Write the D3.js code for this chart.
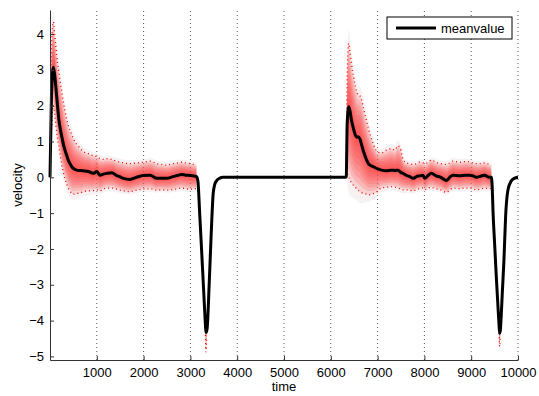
<!DOCTYPE html>
<html>
<head>
<meta charset="utf-8">
<script src="https://cdn.jsdelivr.net/npm/d3@7"></script>
<style>
  body { margin: 0; background: #fff; }
  svg text { font-family: "Liberation Sans", Arial, sans-serif; font-size: 13px; fill: #000; }
</style>
</head>
<body>
<svg id="chart" width="539" height="396"></svg>
<script>

// time samples of the averaged run
const time = [0, 30, 71, 100, 130, 160, 190, 220, 250, 290, 320, 360, 390, 430, 463, 510, 570, 640, 710, 820,
  925, 1000, 1070, 1140, 1210, 1320, 1420, 1500, 1570, 1710, 1850, 1990, 2140, 2280, 2380, 2490, 2630, 2720, 2810, 2900,
  2990, 3060, 3130, 3160, 3200, 3240, 3275, 3310, 3322, 3333, 3345, 3359, 3402, 3445, 3487, 3520, 3558, 3620, 3700, 6320,
  6330, 6350, 6383, 6410, 6441, 6480, 6512, 6550, 6583, 6620, 6660, 6700, 6760, 6800, 6850, 6903, 6990, 7082, 7180, 7295,
  7370, 7437, 7500, 7544, 7620, 7686, 7757, 7830, 7900, 7971, 8006, 8080, 8149, 8250, 8350, 8469, 8540, 8611, 8750, 8870,
  8967, 9040, 9109, 9200, 9287, 9380, 9430, 9450, 9465, 9500, 9536, 9572, 9596, 9607, 9620, 9640, 9664, 9700, 9735, 9786,
  9857, 9920, 10000]

const meanvalue = [0, 2.2, 3.07, 2.85, 2.45, 2.0, 1.6, 1.35, 1.15, 0.9, 0.76, 0.6, 0.48, 0.38, 0.30, 0.24, 0.20, 0.19, 0.18, 0.16,
  0.11, 0.16, 0.06, 0.09, 0.11, 0.13, 0.05, 0.01, -0.03, -0.06, 0.0, 0.05, 0.06, -0.03, -0.03, -0.03, 0.02, 0.05, 0.08, 0.06,
  0.05, 0.04, 0.02, -0.1, -1.05, -2.05, -2.95, -3.85, -4.15, -4.33, -4.3, -4.2, -2.96, -1.56, -0.45, -0.2, -0.1, -0.03, 0, 0,
  0.02, 1.5, 1.97, 1.85, 1.6, 1.38, 1.23, 1.12, 1.13, 1.08, 0.9, 0.72, 0.5, 0.39, 0.33, 0.30, 0.24, 0.2, 0.18, 0.2,
  0.19, 0.2, 0.13, 0.11, 0.05, 0.02, -0.03, 0.02, 0.04, 0.06, -0.03, 0.05, 0.11, 0.04, 0.0, -0.09, 0.0, 0.06, 0.04, 0.06,
  0.06, 0.04, 0.0, 0.03, 0.06, 0.0, 0.0, -0.3, -0.91, -1.84, -2.77, -3.61, -4.15, -4.35, -4.3, -3.9, -3.24, -2.3, -1.1, -0.35,
  -0.1, -0.03, 0]

// spread of the individual runs (null = no spread drawn)
const upper = [0, 3.6, 4.34, 4.0, 3.6, 3.2, 2.95, 2.65, 2.4, 2.05, 1.85, 1.6, 1.45, 1.3, 1.2, 1.05, 0.92, 0.82, 0.72, 0.66,
  0.6, 0.58, 0.52, 0.5, 0.52, 0.5, 0.45, 0.42, 0.4, 0.38, 0.4, 0.42, 0.45, 0.38, 0.36, 0.34, 0.38, 0.4, 0.42, 0.4,
  0.38, 0.36, 0.34, null, null, null, null, null, -4.15, -4.3, -4.25, null, null, null, null, null, null, null, null, null,
  0.02, 2.8, 3.74, 3.5, 3.18, 2.85, 2.62, 2.4, 2.3, 2.28, 2.15, 1.92, 1.6, 1.38, 1.15, 0.95, 0.72, 0.68, 0.75, 0.8,
  0.76, 0.88, 0.75, 0.5, 0.4, 0.38, 0.36, 0.38, 0.42, 0.4, 0.38, 0.42, 0.48, 0.42, 0.38, 0.36, 0.4, 0.45, 0.42, 0.44,
  0.43, 0.4, 0.38, 0.38, 0.4, 0.36, 0.33, null, null, null, null, null, -4.15, -4.3, -4.25, null, null, null, null, null,
  null, null, null]

const lower = [0, 1.2, 2.0, 1.75, 1.4, 1.1, 0.85, 0.6, 0.35, 0.1, -0.05, -0.2, -0.3, -0.38, -0.45, -0.47, -0.45, -0.44, -0.4, -0.38,
  -0.37, -0.35, -0.38, -0.33, -0.3, -0.3, -0.33, -0.36, -0.38, -0.4, -0.36, -0.33, -0.32, -0.36, -0.35, -0.36, -0.34, -0.32, -0.3, -0.32,
  -0.33, -0.33, -0.3, null, null, null, null, null, -4.4, -4.87, -4.5, null, null, null, null, null, null, null, null, null,
  0.0, 0.1, 0.0, -0.08, -0.15, -0.22, -0.26, -0.32, -0.36, -0.4, -0.43, -0.45, -0.47, -0.49, -0.48, -0.46, -0.4, -0.3, -0.28, -0.26,
  -0.27, -0.3, -0.33, -0.35, -0.35, -0.36, -0.38, -0.34, -0.32, -0.3, -0.35, -0.3, -0.28, -0.32, -0.35, -0.42, -0.36, -0.3, -0.32, -0.3,
  -0.3, -0.32, -0.35, -0.33, -0.3, -0.32, -0.3, null, null, null, null, null, -4.35, -4.72, -4.5, null, null, null, null, null,
  null, null, null]

const xTicks = [1000, 2000, 3000, 4000, 5000, 6000, 7000, 8000, 9000, 10000]
const yTicks = [-5, -4, -3, -2, -1, 0, 1, 2, 3, 4]

const data = time.map((t, i) => ({ t: t, m: meanvalue[i], hi: upper[i], lo: lower[i] }))

const margin = { top: 10, right: 21, bottom: 36, left: 50 }
const W = 539, H = 396

const svg = d3.select('#chart')

const x = d3.scaleLinear()
  .domain([0, 10000])
  .range([margin.left, W - margin.right])

const y = d3.scaleLinear()
  .domain([-5.1, 4.67])
  .range([H - margin.bottom, margin.top])

const curve = d3.curveMonotoneX

// grid (x only, dotted)
svg.append('g')
  .selectAll('line')
  .data(xTicks)
  .join('line')
    .attr('x1', d => x(d)).attr('x2', d => x(d))
    .attr('y1', y.range()[0]).attr('y2', y.range()[1])
    .attr('stroke', '#555')
    .attr('stroke-width', 1)
    .attr('stroke-dasharray', '1,3')

// shaded spread, several nested layers
const layers = [1.22, 1, 0.88, 0.76, 0.64, 0.52, 0.4, 0.28, 0.16]
const bandG = svg.append('g')
layers.forEach((f, k) => {
  const area = d3.area()
    .defined(d => d.hi !== null)
    .curve(curve)
    .x(d => x(d.t))
    .y0(d => y(d.m + f * (d.lo - d.m)))
    .y1(d => y(d.m + f * (d.hi - d.m)))
  bandG.append('path')
    .datum(data)
    .attr('d', area)
    .attr('fill', k === 0 ? '#e8d8d8' : '#ff2a2a')
    .attr('fill-opacity', k === 0 ? 0.35 : 0.16)
})

// dotted outer bounds
const edge = key => d3.line()
  .defined(d => d.hi !== null)
  .curve(curve)
  .x(d => x(d.t))
  .y(d => y(d[key]))

;['hi', 'lo'].forEach(key => {
  svg.append('path')
    .datum(data)
    .attr('d', edge(key))
    .attr('fill', 'none')
    .attr('stroke', '#ff0000')
    .attr('stroke-width', 1.3)
    .attr('stroke-dasharray', '1,3')
})

// mean line
svg.append('path')
  .datum(data)
  .attr('d', d3.line().curve(curve).x(d => x(d.t)).y(d => y(d.m)))
  .attr('fill', 'none')
  .attr('stroke', '#000')
  .attr('stroke-width', 3)
  .attr('stroke-linejoin', 'round')

// axes
const xAxis = svg.append('g')
  .attr('transform', 'translate(0,' + y.range()[0] + ')')
  .call(d3.axisBottom(x).tickValues(xTicks).tickFormat(d3.format('d'))
    .tickSizeInner(-4).tickSizeOuter(0).tickPadding(8))

const yAxis = svg.append('g')
  .attr('transform', 'translate(' + x.range()[0] + ',0)')
  .call(d3.axisLeft(y).tickValues(yTicks).tickFormat(d3.format('d'))
    .tickSizeInner(-4).tickSizeOuter(0).tickPadding(6))

;[xAxis, yAxis].forEach(g => {
  g.select('.domain').attr('stroke', '#333')
  g.selectAll('.tick line').attr('stroke', '#333')
  g.selectAll('text').attr('font-size', 13).attr('font-family', '"Liberation Sans", Arial, sans-serif')
})

// labels
svg.append('text')
  .attr('x', (x.range()[0] + x.range()[1]) / 2)
  .attr('y', 391)
  .attr('text-anchor', 'middle')
  .text('time')

svg.append('text')
  .attr('transform', 'translate(22,' + (y.range()[0] + y.range()[1]) / 2 + ') rotate(-90)')
  .attr('text-anchor', 'middle')
  .text('velocity')

// legend
const lg = svg.append('g').attr('transform', 'translate(387,17)')
lg.append('rect')
  .attr('width', 125).attr('height', 22)
  .attr('fill', '#fff').attr('stroke', '#000').attr('stroke-width', 1)
lg.append('line')
  .attr('x1', 9).attr('x2', 49).attr('y1', 11).attr('y2', 11)
  .attr('stroke', '#000').attr('stroke-width', 3)
lg.append('text')
  .attr('x', 54).attr('y', 16)
  .text('meanvalue')

</script>
</body>
</html>
